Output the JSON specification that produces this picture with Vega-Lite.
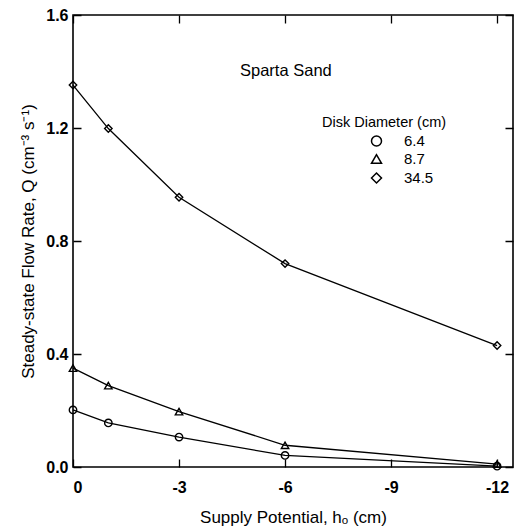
{
  "$schema": "https://vega.github.io/schema/vega-lite/v6.json",
  "width": 440,
  "height": 452,
  "autosize": "none",
  "padding": {"left": 73, "top": 15, "right": 2, "bottom": 64},
  "background": "white",
  "config": {
    "view": {"stroke": "black", "strokeWidth": 1.6},
    "font": "Liberation Sans",
    "axis": {"domain": false, "ticks": false, "grid": true, "gridColor": "black", "gridOpacity": 1, "gridWidth": 1.3, "labelColor": "black", "titleColor": "black", "labelFont": "Liberation Sans", "titleFont": "Liberation Sans"}
  },
  "title": {"text": "Sparta Sand", "anchor": "start", "frame": "group", "dx": 167, "dy": 80, "offset": 0, "baseline": "middle", "fontSize": 16.5, "fontWeight": "normal", "color": "black", "font": "Liberation Sans"},
  "data": {"values": [
    {"d": "6.4", "h": 0, "q": 0.202},
    {"d": "6.4", "h": -1, "q": 0.156},
    {"d": "6.4", "h": -3, "q": 0.106},
    {"d": "6.4", "h": -6, "q": 0.041},
    {"d": "6.4", "h": -12, "q": 0.003},
    {"d": "8.7", "h": 0, "q": 0.35},
    {"d": "8.7", "h": -1, "q": 0.288},
    {"d": "8.7", "h": -3, "q": 0.196},
    {"d": "8.7", "h": -6, "q": 0.077},
    {"d": "8.7", "h": -12, "q": 0.01},
    {"d": "34.5", "h": 0, "q": 1.352},
    {"d": "34.5", "h": -1, "q": 1.198},
    {"d": "34.5", "h": -3, "q": 0.955},
    {"d": "34.5", "h": -6, "q": 0.72},
    {"d": "34.5", "h": -12, "q": 0.43}
  ]},
  "layer": [
    {
      "mark": {"type": "line", "color": "black", "strokeWidth": 1.3},
      "encoding": {
        "x": {"field": "h", "type": "quantitative", "scale": {"domain": [0, -12.45], "nice": false, "zero": false},
          "axis": {"orient": "bottom", "title": "Supply Potential, hₒ (cm)", "titleFontSize": 17, "titleFontWeight": "normal", "titlePadding": 14,
            "values": [0, -3, -6, -9, -12],
            "labelOverlap": false,
            "gridDash": [8, 436, 8, 1000],
            "labelExpr": "'' + datum.value",
            "labelFontSize": 16, "labelFontWeight": "bold", "labelPadding": 12}},
        "y": {"field": "q", "type": "quantitative", "scale": {"domain": [0, 1.6], "nice": false, "zero": false},
          "axis": {"orient": "left", "title": "Steady-state Flow Rate, Q (cm⁻³ s⁻¹)", "titleFontSize": 17, "titleFontWeight": "normal", "titlePadding": 8,
            "values": [0, 0.4, 0.8, 1.2, 1.6],
            "labelOverlap": false,
            "gridDash": [8, 424, 8, 1000],
            "format": ".1f",
            "labelFontSize": 16, "labelFontWeight": "bold", "labelPadding": 5}},
        "detail": {"field": "d"}
      }
    },
    {
      "mark": {"type": "point", "color": "black", "strokeWidth": 1.4, "size": 55, "opacity": 1},
      "encoding": {
        "x": {"field": "h", "type": "quantitative"},
        "y": {"field": "q", "type": "quantitative"},
        "shape": {"field": "d", "type": "nominal", "sort": ["6.4", "8.7", "34.5"],
          "scale": {"domain": ["6.4", "8.7", "34.5"], "range": ["circle", "triangle-up", "diamond"]},
          "legend": {"orient": "none", "legendX": 249, "legendY": 101, "zindex": 1, "title": "Disk Diameter (cm)",
            "titleFontSize": 14.5, "titleFontWeight": "normal", "titleColor": "black", "titlePadding": 3,
            "labelFontSize": 15, "labelColor": "black", "symbolOffset": 47, "labelOffset": 20, "rowPadding": 2}}
      }
    }
  ]
}
